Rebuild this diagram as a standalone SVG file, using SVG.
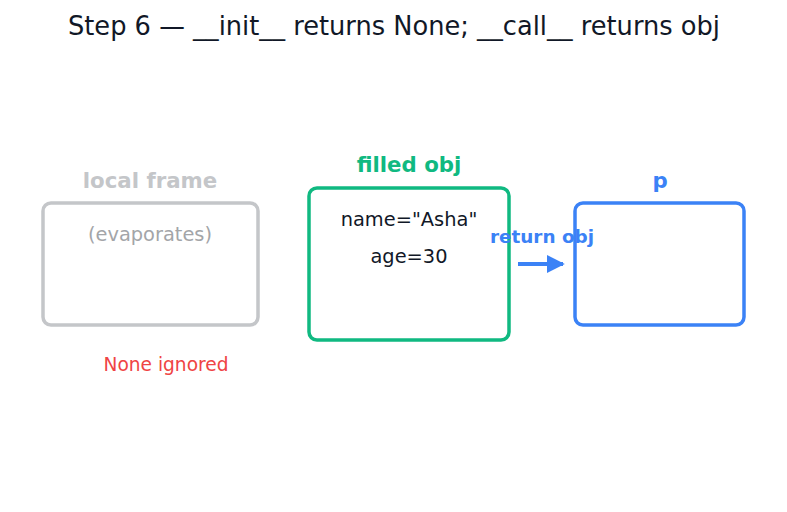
<svg xmlns="http://www.w3.org/2000/svg" width="787" height="512" viewBox="0 0 787 512">
<defs>
<style>
text{font-family:"DejaVu Sans",sans-serif;text-anchor:middle}
.title{font-size:25.7px;fill:#111827}
.lbl{font-size:21.3px;font-weight:bold}
.body{font-size:19.4px;fill:#111827}
.box{fill:#fff;stroke-width:3.5}
</style>
<marker id="ah" viewBox="0 0 10 10" refX="9" refY="5" markerWidth="4.5" markerHeight="4.5" orient="auto" markerUnits="strokeWidth">
<path d="M0,0 L10,5 L0,10 z" fill="#3b82f6"/>
</marker>
</defs>
<rect width="787" height="512" fill="#fff"/>
<text class="title" x="394" y="35">Step 6 — __init__ returns None; __call__ returns obj</text>
<g id="local-frame">
<text class="lbl" x="150" y="188" fill="#c4c6c9">local frame</text>
<rect class="box" x="43" y="203" width="215" height="122" rx="8" stroke="#c4c6c9"/>
<text x="150" y="241" style="font-size:19.4px;fill:#a3a5a8">(evaporates)</text>
<text x="166" y="371" style="font-size:18.6px;fill:#ef4444">None ignored</text>
</g>
<g id="filled-obj">
<text class="lbl" x="409" y="172" fill="#10b981">filled obj</text>
<rect class="box" x="309" y="188" width="200" height="152" rx="8" stroke="#10b981"/>
<text class="body" x="409" y="226">name="Asha"</text>
<text class="body" x="409" y="263">age=30</text>
</g>
<g id="p">
<text class="lbl" x="660" y="188" fill="#3b82f6">p</text>
<rect class="box" x="575" y="203" width="169" height="122" rx="8" stroke="#3b82f6"/>
</g>
<g id="connectors">
<line x1="518" y1="264" x2="563" y2="264" stroke="#3b82f6" stroke-width="4" marker-end="url(#ah)"/>
<text x="542" y="243" style="font-size:18.4px;font-weight:bold;fill:#3b82f6">return obj</text>
</g>
</svg>
